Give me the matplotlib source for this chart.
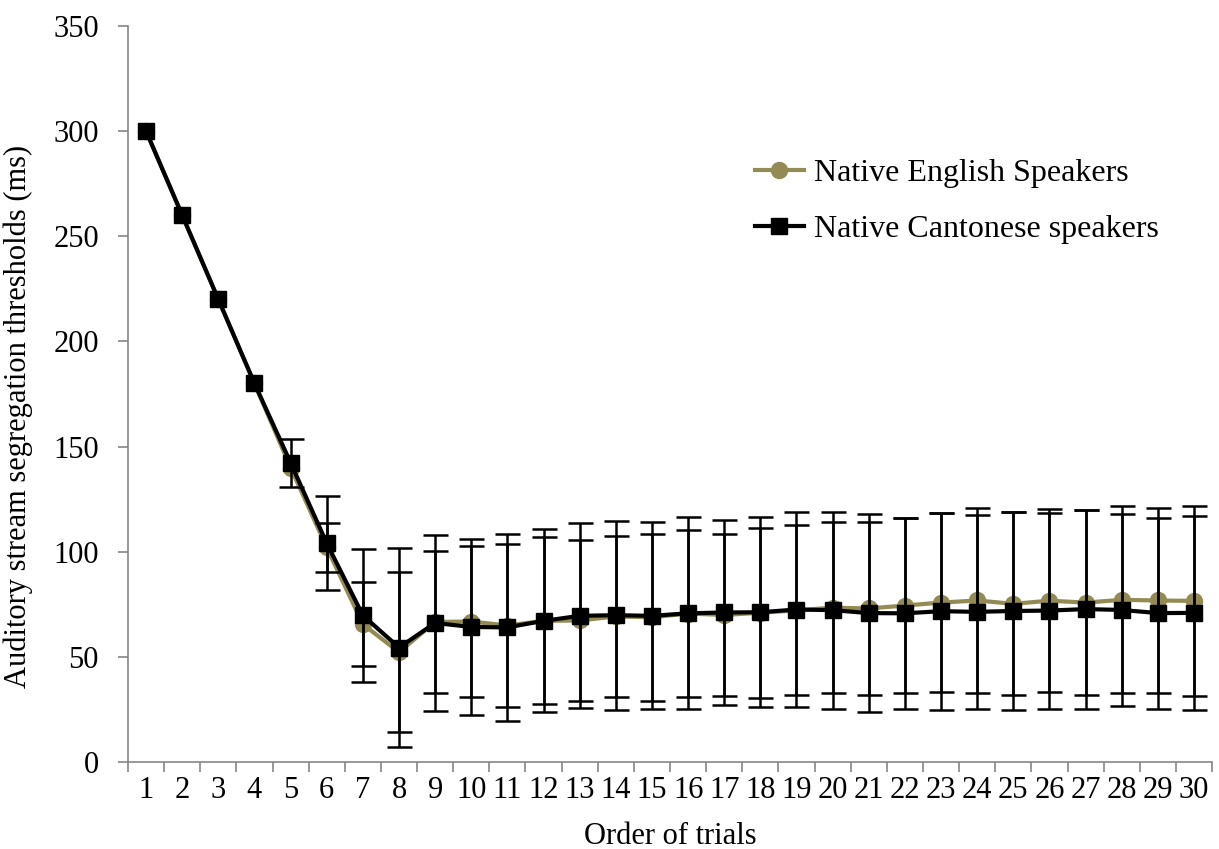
import numpy as np
import matplotlib
matplotlib.use('Agg')
import matplotlib.pyplot as plt

plt.rcParams['font.family'] = ['Liberation Serif', 'DejaVu Serif']

trials = list(range(1, 31))

# mean thresholds (ms)
english = [300, 260, 220, 180, 140, 102, 65.5, 52.2, 66.6, 66.8,
           64.9, 67.1, 67.3, 69.2, 68.8, 70.6, 69.9, 71.0, 72.1, 73.4,
           73.0, 74.4, 75.8, 76.8, 75.2, 76.7, 75.8, 77.1, 76.8, 76.6]
cantonese = [300, 260, 220, 180, 142.3, 104, 69.7, 54.4, 66.1, 64.2,
             64.0, 67.1, 69.5, 69.8, 69.5, 70.7, 71.1, 71.2, 72.5, 72.2,
             70.8, 70.7, 71.7, 71.4, 71.8, 72.0, 72.7, 72.3, 70.8, 70.9]

# error bar half-widths (0 = no bar drawn)
english_err = [0, 0, 0, 0, 0, 11.6, 20, 38, 33.9, 36.1,
               38.9, 39.7, 38.3, 38.1, 39.8, 39.6, 38.7, 40.5, 40.4, 40.6,
               41.0, 41.7, 42.7, 44.0, 43.5, 43.6, 44.1, 44.4, 44.0, 45.2]
cantonese_err = [0, 0, 0, 0, 11.3, 22.4, 31.5, 47.4, 41.8, 42.0,
                 44.6, 43.5, 44.0, 44.9, 44.5, 45.7, 44.0, 45.2, 46.5, 46.8,
                 47.0, 45.3, 46.8, 46.0, 46.9, 46.6, 47.3, 45.7, 45.4, 46.0]

olive = '#948A54'
grey = '#868686'


def draw_errors(ax, x, y, err, z):
    x, y, err = np.array(x), np.array(y), np.array(err)
    keep = err > 0
    ax.errorbar(x[keep], y[keep], yerr=err[keep], fmt='none', ecolor='black',
                elinewidth=1.8, capsize=9, capthick=1.8, zorder=z)


fig = plt.figure(figsize=(12.19, 8.49), dpi=100)
ax = fig.add_axes([0.105, 0.1025, 0.8893, 0.8669])

ax.plot(trials, english, color=olive, lw=3, marker='o', ms=11.5,
        mec=olive, mfc=olive, label='Native English Speakers', zorder=2)
draw_errors(ax, trials, english, english_err, 3)
ax.plot(trials, cantonese, color='black', lw=3, marker='s', ms=11.5,
        mec='black', mfc='black', label='Native Cantonese speakers', zorder=4)
draw_errors(ax, trials, cantonese, cantonese_err, 5)

ax.set_xlim(0.5, 30.5)
ax.set_ylim(0, 350)
ax.set_yticks(np.arange(0, 351, 50))
ax.set_xticks(trials)
ax.set_xticklabels([str(t) for t in trials])
ax.set_xticks(np.arange(0.5, 31, 1), minor=True)
ax.tick_params(axis='x', which='major', length=0, labelsize=22, pad=10)
ax.tick_params(axis='x', which='minor', length=7, color=grey, width=1.2)
ax.tick_params(axis='y', length=7, color=grey, width=1.2, labelsize=22, pad=14)

for side in ['top', 'right']:
    ax.spines[side].set_visible(False)
for side in ['left', 'bottom']:
    ax.spines[side].set_color(grey)
    ax.spines[side].set_linewidth(1.2)

ax.set_xlabel('Order of trials', fontsize=22, labelpad=12)
ax.set_ylabel('Auditory stream segregation thresholds (ms)', fontsize=22)
ax.yaxis.set_label_coords(-0.088, 0.47)

ax.legend(loc='upper left', bbox_to_anchor=(0.578, 0.82), frameon=False,
          fontsize=23, handlelength=1.55, handletextpad=0.3, labelspacing=0.85,
          borderpad=0, borderaxespad=0)

fig.savefig('out.png', dpi=100)
